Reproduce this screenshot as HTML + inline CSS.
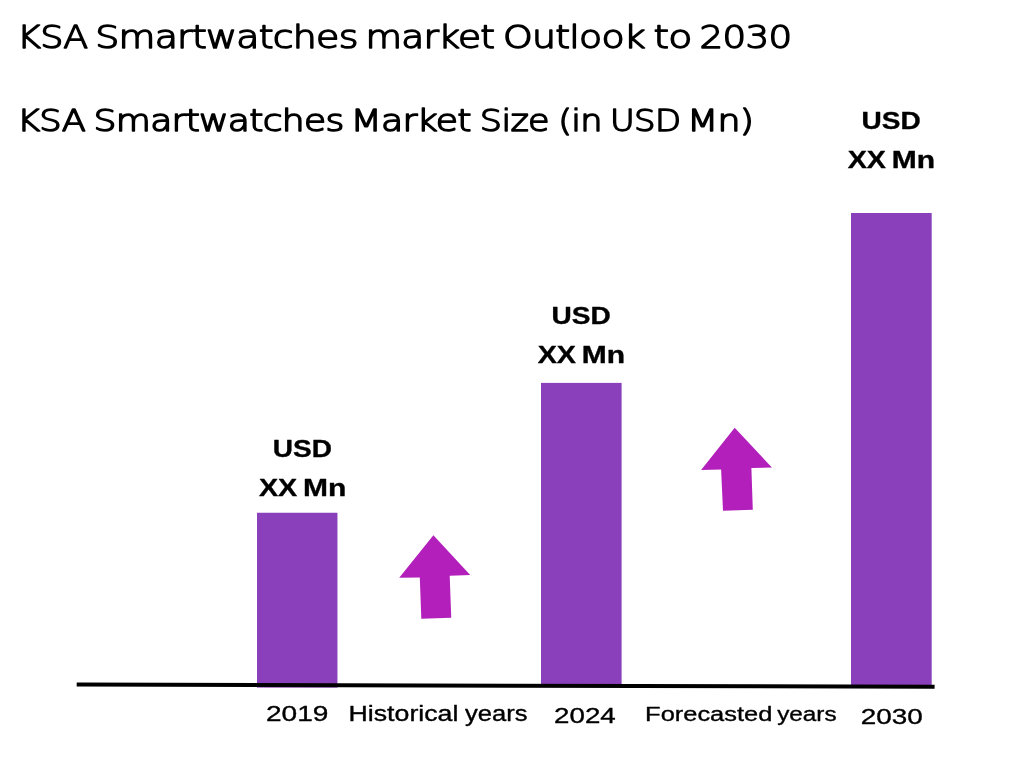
<!DOCTYPE html>
<html lang="en">
<head>
<meta charset="utf-8">
<title>KSA Smartwatches market Outlook to 2030</title>
<style>
  html, body { margin: 0; padding: 0; background: #ffffff; }
  body { width: 1024px; height: 768px; overflow: hidden; position: relative; }
  svg { position: absolute; left: 0; top: 0; display: block; }
  text { white-space: pre; }
  .ttl { font-family: "DejaVu Sans Light", "DejaVu Sans", "Liberation Sans", sans-serif; font-weight: 200; fill: #000; stroke: #000; stroke-width: 1.45px; stroke-linejoin: round; letter-spacing: -0.02em; }
  .val { font-family: "Liberation Sans", "DejaVu Sans", sans-serif; font-weight: bold; fill: #000; stroke: #000; stroke-width: 0.35px; stroke-linejoin: round; }
  .axl { font-family: "Liberation Sans", "DejaVu Sans", sans-serif; font-weight: normal; fill: #000; stroke: #000; stroke-width: 0.35px; stroke-linejoin: round; }
</style>
</head>
<body>
<svg width="1024" height="768" viewBox="0 0 1024 768">
  <rect x="0" y="0" width="1024" height="768" fill="#ffffff"/>

  <!-- bars -->
  <rect x="257" y="512.75" width="80.45" height="174.85" fill="#8a3fbb"/>
  <rect x="541" y="382.9" width="80.6" height="304" fill="#8a3fbb"/>
  <rect x="851" y="213" width="80.7" height="474" fill="#8a3fbb"/>

  <!-- axis -->
  <line x1="76.7" y1="684.6" x2="934.6" y2="686.7" stroke="#000" stroke-width="4"/>

  <!-- arrows -->
  <polygon fill="#b21fba" points="433.4,535.2 470.2,575 449.7,575.8 451.25,617.7 421.3,618.75 419.8,577.5 399.2,577.8"/>
  <polygon fill="#b21fba" points="734.7,427.7 771.9,467.5 751.4,468.1 752.8,509.7 723,510.8 721.1,469.5 701.1,470"/>

  <!-- text: headings, value labels, axis labels -->
  <text class="ttl" font-size="32.05" y="48.12"><tspan x="17.05" textLength="70.39" lengthAdjust="spacingAndGlyphs">KSA</tspan> <tspan x="95.22" textLength="262.40" lengthAdjust="spacingAndGlyphs">Smartwatches</tspan> <tspan x="365.50" textLength="128.83" lengthAdjust="spacingAndGlyphs">market</tspan> <tspan x="502.90" textLength="142.06" lengthAdjust="spacingAndGlyphs">Outlook</tspan> <tspan x="653.55" textLength="38.04" lengthAdjust="spacingAndGlyphs">to</tspan> <tspan x="699.62" textLength="91.73" lengthAdjust="spacingAndGlyphs">2030</tspan></text>
  <text class="ttl" font-size="29.66" y="131.17"><tspan x="16.95" textLength="68.20" lengthAdjust="spacingAndGlyphs">KSA</tspan> <tspan x="93.58" textLength="249.89" lengthAdjust="spacingAndGlyphs">Smartwatches</tspan> <tspan x="350.42" textLength="120.46" lengthAdjust="spacingAndGlyphs">Market</tspan> <tspan x="479.88" textLength="69.03" lengthAdjust="spacingAndGlyphs">Size</tspan> <tspan x="558.16" textLength="43.67" lengthAdjust="spacingAndGlyphs">(in</tspan> <tspan x="610.00" textLength="70.26" lengthAdjust="spacingAndGlyphs">USD</tspan> <tspan x="686.92" textLength="66.34" lengthAdjust="spacingAndGlyphs">Mn)</tspan></text>
  <text class="val" font-size="23.99" y="456.72"><tspan x="272.89" textLength="59.14" lengthAdjust="spacingAndGlyphs">USD</tspan></text>
  <text class="val" font-size="23.84" y="495.72"><tspan x="258.99" textLength="38.29" lengthAdjust="spacingAndGlyphs">XX</tspan> <tspan x="303.12" textLength="43.30" lengthAdjust="spacingAndGlyphs">Mn</tspan></text>
  <text class="val" font-size="23.99" y="323.72"><tspan x="551.59" textLength="59.14" lengthAdjust="spacingAndGlyphs">USD</tspan></text>
  <text class="val" font-size="23.84" y="362.72"><tspan x="537.69" textLength="38.29" lengthAdjust="spacingAndGlyphs">XX</tspan> <tspan x="581.82" textLength="43.30" lengthAdjust="spacingAndGlyphs">Mn</tspan></text>
  <text class="val" font-size="23.99" y="128.72"><tspan x="861.59" textLength="59.14" lengthAdjust="spacingAndGlyphs">USD</tspan></text>
  <text class="val" font-size="23.84" y="167.72"><tspan x="847.69" textLength="38.29" lengthAdjust="spacingAndGlyphs">XX</tspan> <tspan x="891.82" textLength="43.30" lengthAdjust="spacingAndGlyphs">Mn</tspan></text>
  <text class="axl" font-size="21.79" y="720.62"><tspan x="265.97" textLength="62.45" lengthAdjust="spacingAndGlyphs">2019</tspan></text>
  <text class="axl" font-size="21.38" y="720.53"><tspan x="348.54" textLength="109.86" lengthAdjust="spacingAndGlyphs">Historical</tspan> <tspan x="464.95" textLength="62.49" lengthAdjust="spacingAndGlyphs">years</tspan></text>
  <text class="axl" font-size="21.71" y="722.58"><tspan x="554.09" textLength="61.63" lengthAdjust="spacingAndGlyphs">2024</tspan></text>
  <text class="axl" font-size="20.58" y="720.58"><tspan x="645.14" textLength="127.20" lengthAdjust="spacingAndGlyphs">Forecasted</tspan> <tspan x="777.15" textLength="59.43" lengthAdjust="spacingAndGlyphs">years</tspan></text>
  <text class="axl" font-size="21.64" y="723.53"><tspan x="860.88" textLength="61.90" lengthAdjust="spacingAndGlyphs">2030</tspan></text>
</svg>
</body>
</html>
